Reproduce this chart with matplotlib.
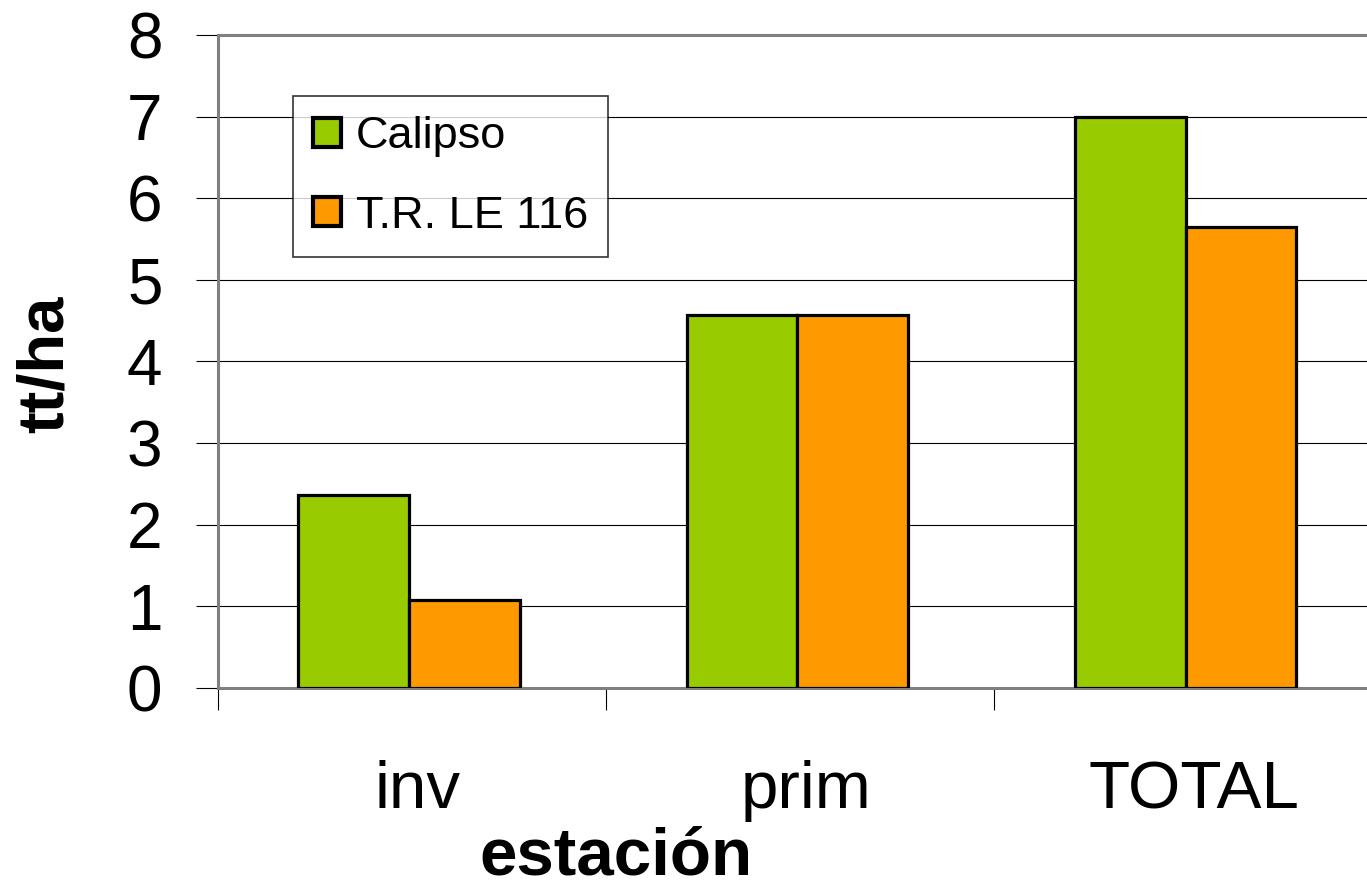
import numpy as np
import matplotlib.pyplot as plt

plt.rcParams['font.family'] = ['Liberation Sans', 'DejaVu Sans']

estaciones = ['inv', 'prim', 'TOTAL']
calipso = [2.37, 4.57, 7.0]
tr_le116 = [1.08, 4.57, 5.65]

fig = plt.figure(figsize=(13.67, 8.85), dpi=100)
ax = fig.add_axes([0.1595, 0.2226, 0.852, 0.7379])

x = np.arange(len(estaciones))
w = 0.285
ax.bar(x - w / 2 - 0.008, calipso, w, color='#99CC00', edgecolor='black', linewidth=2.3,
       label='Calipso', zorder=3)
ax.bar(x + w / 2 - 0.008, tr_le116, w, color='#FF9900', edgecolor='black', linewidth=2.3,
       label='T.R. LE 116', zorder=3)

ax.set_xlim(-0.5, 2.5)
ax.set_ylim(0, 8)
ax.set_yticks(range(0, 9))
ax.yaxis.grid(True, color='black', linewidth=0.8, zorder=0)

# category separators as major ticks, names as minor ticks
ax.set_xticks([-0.5, 0.5, 1.5, 2.5])
ax.set_xticklabels([])
ax.set_xticks(x + 0.015, minor=True)
ax.set_xticklabels(estaciones, minor=True, fontsize=48.5)
ax.tick_params(axis='x', which='major', length=16, width=0.8, color='black')
ax.tick_params(axis='x', which='minor', length=0, pad=52)
ax.tick_params(axis='y', length=16, width=0.8, color='black', labelsize=46, pad=24)

for s in ['left', 'bottom', 'top']:
    ax.spines[s].set_color('#808080')
    ax.spines[s].set_linewidth(2.2)
ax.spines['right'].set_visible(False)

ax.set_ylabel('tt/ha', fontsize=47, fontweight='bold')
ax.yaxis.set_label_coords(-0.122, 0.495)
fig.text(0.4505, 0.012, 'estación', fontsize=48.5, fontweight='bold',
         ha='center', va='baseline')

leg = ax.legend(loc='upper left', bbox_to_anchor=(0.0644, 0.9066), borderaxespad=0,
                fontsize=32.5, frameon=True, fancybox=False, edgecolor='black',
                handlelength=0.62, handleheight=0.62, handletextpad=0.32,
                labelspacing=0.85, borderpad=0.45)
leg.get_frame().set_linewidth(1.2)
leg.set_zorder(5)
for h in leg.legend_handles:
    h.set_linewidth(3)

fig.savefig('out.png', dpi=100)
